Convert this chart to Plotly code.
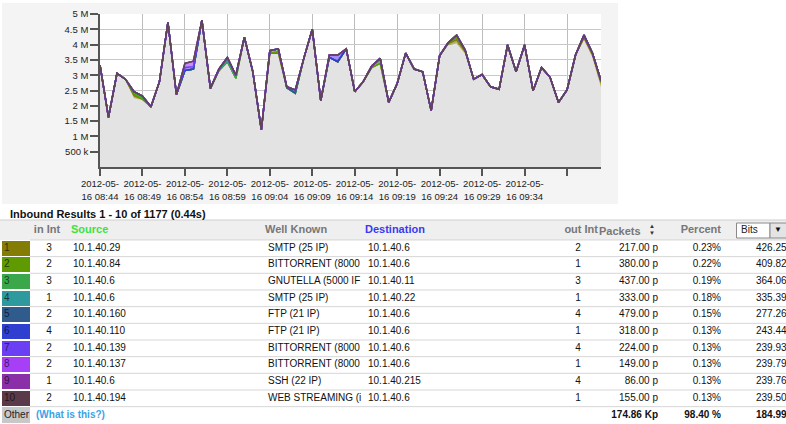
import pandas as pd
import plotly.graph_objects as go

FONT = "Liberation Sans, Arial, sans-serif"
W, H = 786, 424

# ---------------- chart data (Mbps per minute) ----------------
times = pd.date_range("2012-05-16 08:44", periods=60, freq="min")

other = [3.33, 1.62, 3.06, 2.87, 2.25, 2.19, 1.97, 2.79, 4.73, 2.37,
         3.15, 3.20, 4.80, 2.57, 3.15, 3.44, 2.90, 4.24, 3.11, 1.21,
         3.72, 3.72, 2.59, 2.41, 3.55, 4.50, 2.17, 3.58, 3.44, 3.86,
         2.46, 2.79, 3.25, 3.39, 2.11, 2.73, 3.72, 3.20, 3.11, 1.84,
         3.64, 3.98, 4.04, 3.69, 2.87, 3.02, 2.62, 2.54, 3.99, 3.11,
         3.99, 2.49, 3.25, 2.93, 2.11, 2.52, 3.66, 4.15, 3.57, 2.60]

s1 = [0, 0, 0, 0, .08, .03, 0, 0, 0, 0,
      0, 0, 0, 0, 0, 0, 0, 0, 0, 0,
      0, 0, 0, 0, 0, 0, 0, 0, 0, 0,
      0, 0, 0, 0, 0, 0, 0, 0, 0, 0,
      0, .05, .12, .08, 0, 0, 0, 0, 0, 0,
      0, 0, 0, 0, 0, 0, 0, .08, .10, .15]
s2 = [0, 0, 0, 0, .05, 0, 0, 0, 0, 0,
      0, 0, 0, 0, 0, 0, 0, 0, 0, 0,
      0, .05, 0, 0, 0, 0, 0, 0, 0, 0,
      0, 0, 0, 0, 0, 0, 0, 0, 0, 0,
      0, .03, .06, .05, 0, 0, 0, 0, 0, 0,
      0, 0, 0, 0, 0, 0, 0, .08, .05, .07]
s3 = [0, 0, 0, 0, .04, .05, 0, 0, 0, 0,
      0, 0, 0, 0, 0, 0, 0, 0, 0, 0,
      .08, .09, 0, 0, 0, 0, 0, 0, 0, 0,
      0, 0, .05, .10, 0, 0, 0, 0, 0, 0,
      0, 0, .09, 0, 0, 0, 0, 0, 0, 0,
      0, 0, 0, 0, 0, 0, 0, 0, 0, 0]
s4 = [0, 0, 0, 0, .04, .05, 0, 0, 0, 0,
      0, 0, 0, 0, 0, .07, .10, 0, 0, 0,
      0, 0, 0, 0, 0, 0, 0, 0, 0, 0,
      0, 0, 0, .06, 0, 0, 0, 0, 0, 0,
      0, 0, 0, 0, 0, 0, 0, 0, 0, 0,
      0, 0, 0, 0, 0, 0, 0, 0, 0, 0]
s5 = [0, 0, 0, 0, 0, 0, 0, 0, 0, 0,
      0, 0, 0, 0, .05, .07, 0, 0, 0, 0,
      0, 0, 0, 0, 0, 0, 0, 0, 0, 0,
      0, 0, 0, 0, 0, 0, 0, 0, 0, 0,
      0, 0, 0, 0, 0, 0, 0, 0, 0, 0,
      0, 0, 0, 0, 0, 0, 0, 0, 0, 0]
s6 = [0, 0, 0, 0, 0, 0, 0, 0, 0, 0,
      0, 0, 0, 0, 0, 0, 0, 0, 0, 0,
      0, 0, .03, .11, 0, 0, 0, 0, 0, 0,
      0, 0, 0, 0, 0, 0, 0, 0, 0, 0,
      0, 0, 0, 0, 0, 0, 0, 0, 0, 0,
      0, 0, 0, 0, 0, 0, 0, 0, 0, 0]
s7 = [0, 0, 0, 0, 0, 0, 0, 0, 0, 0,
      .10, .08, 0, 0, 0, 0, 0, 0, 0, 0,
      0, 0, 0, 0, 0, 0, 0, .08, .22, 0,
      0, 0, 0, 0, 0, 0, 0, 0, 0, 0,
      0, 0, 0, 0, 0, 0, 0, 0, 0, 0,
      0, 0, 0, 0, 0, 0, 0, 0, 0, 0]
s8 = [0, 0, 0, 0, 0, 0, 0, 0, 0, 0,
      .14, .18, 0, 0, 0, 0, 0, 0, 0, 0,
      0, 0, 0, 0, 0, 0, 0, 0, 0, 0,
      0, 0, 0, 0, 0, 0, 0, 0, 0, 0,
      0, 0, 0, 0, 0, 0, 0, 0, 0, 0,
      0, 0, 0, 0, 0, 0, 0, 0, 0, 0]
s9 = [0] * 60
s10 = [0] * 60
top_series = [s1, s2, s3, s4, s5, s6, s7, s8, s9, s10]

series_colors = ["#837c05", "#5f9a00", "#3aa84a", "#2f9a9e", "#2f5c8c",
                 "#2f3fd0", "#6b40f5", "#a63ff5", "#8a2fa8", "#5a3a48"]
line_colors = ["#837c05", "#5f9a00", "#3aa84a", "#2f9a9e", "#2f5c8c",
               "#2f3fd0", "#6b40f5", "#a63ff5", "#8a2fa8", "#5d4753"]
fill_rgba = ["rgba(131,124,5,0.6)", "rgba(95,154,0,0.6)", "rgba(58,168,74,0.6)",
             "rgba(47,154,158,0.6)", "rgba(47,92,140,0.6)", "rgba(47,63,208,0.6)",
             "rgba(107,64,245,0.6)", "rgba(166,63,245,0.6)", "rgba(138,47,168,0.6)",
             "rgba(90,58,72,0.6)"]

y_tick_vals = [0.5, 1, 1.5, 2, 2.5, 3, 3.5, 4, 4.5, 5]
y_tick_text = ["500 k", "1 M", "1.5 M", "2 M", "2.5 M", "3 M", "3.5 M", "4 M", "4.5 M", "5 M"]
x_tick_vals = pd.date_range("2012-05-16 08:44", periods=12, freq="5min")
x_tick_text = ["2012-05-<br>16 " + t.strftime("%H:%M") for t in x_tick_vals[:11]] + [""]

# ---------------- table data ----------------
rows = list(range(1, 11))
in_int = [3, 2, 3, 1, 2, 4, 2, 2, 1, 2]
source = ["10.1.40.29", "10.1.40.84", "10.1.40.6", "10.1.40.6", "10.1.40.160",
          "10.1.40.110", "10.1.40.139", "10.1.40.137", "10.1.40.6", "10.1.40.194"]
well_known = ["SMTP (25 IP)", "BITTORRENT (8000", "GNUTELLA (5000 IF", "SMTP (25 IP)", "FTP (21 IP)",
              "FTP (21 IP)", "BITTORRENT (8000", "BITTORRENT (8000", "SSH (22 IP)", "WEB STREAMING (i"]
destination = ["10.1.40.6", "10.1.40.6", "10.1.40.11", "10.1.40.22", "10.1.40.6",
               "10.1.40.6", "10.1.40.6", "10.1.40.6", "10.1.40.215", "10.1.40.6"]
out_int = [2, 1, 3, 1, 4, 1, 4, 1, 4, 1]
packets = ["217.00 p", "380.00 p", "437.00 p", "333.00 p", "479.00 p",
           "318.00 p", "224.00 p", "149.00 p", "86.00 p", "155.00 p"]
percent = ["0.23%", "0.22%", "0.19%", "0.18%", "0.15%",
           "0.13%", "0.13%", "0.13%", "0.13%", "0.13%"]
bits = ["426.25", "409.82", "364.06", "335.39", "277.26",
        "243.44", "239.93", "239.79", "239.76", "239.50"]
other_totals = ["174.86 Kp", "98.40 %", "184.99"]
title_text = "Inbound Results 1 - 10 of 1177 (0.44s)"

fig = go.Figure()

# stacked area chart
fig.add_trace(go.Scatter(x=times, y=other, stackgroup="one", mode="lines",
                         line=dict(width=0, color="#e3e3e3"), fillcolor="#e3e3e3",
                         hoverinfo="skip", showlegend=False))
for vals, lc, fc in zip(top_series, line_colors, fill_rgba):
    fig.add_trace(go.Scatter(x=times, y=vals, stackgroup="one", mode="lines",
                             line=dict(width=1.5, color=lc), fillcolor=fc,
                             hoverinfo="skip", showlegend=False))

# ---------------- table (pixel-like x, row-index y) ----------------
ROW_H = 16.67
ROW1_PX = 248.3
def px_to_row(p):
    return (p - ROW1_PX) / ROW_H + 1

y2_range = [px_to_row(H), px_to_row(0)]
HDR = px_to_row(230)

# swatches
fig.add_trace(go.Bar(y=rows, x=[28] * 10, base=2, orientation="h", width=0.9,
                     marker=dict(color=series_colors, line=dict(width=0)),
                     xaxis="x2", yaxis="y2", hoverinfo="skip", showlegend=False))
fig.add_trace(go.Bar(y=[11], x=[28], base=2, orientation="h", width=1.0,
                     marker=dict(color="#c8c8c8", line=dict(width=0)),
                     xaxis="x2", yaxis="y2", hoverinfo="skip", showlegend=False))

def text_col(x, y, txt, pos, color="#111", size=10, weight="normal"):
    fig.add_trace(go.Scatter(x=[x] * len(y), y=y, text=txt, mode="text",
                             textposition=pos, cliponaxis=False,
                             textfont=dict(family=FONT, size=size, color=color, weight=weight),
                             xaxis="x2", yaxis="y2", hoverinfo="skip", showlegend=False))

text_col(4, rows, [str(r) for r in rows], "middle right", color="rgba(0,0,0,0.65)")
text_col(49, rows, [str(v) for v in in_int], "middle center")
text_col(73, rows, source, "middle right")
text_col(268, rows, well_known, "middle right")
text_col(368, rows, destination, "middle right")
text_col(578, rows, [str(v) for v in out_int], "middle center")
text_col(658, rows, packets, "middle left")
text_col(721, rows, percent, "middle left")
text_col(756, rows, bits, "middle right")

# header
text_col(10, [-1], [title_text], "middle right", color="#111", size=11, weight="bold")
text_col(47, [HDR], ["in Int"], "middle center", color="#777", size=11, weight="bold")
text_col(71, [HDR], ["Source"], "middle right", color="#3ee23e", size=11, weight="bold")
text_col(265, [HDR], ["Well Known"], "middle right", color="#777", size=11, weight="bold")
text_col(365, [HDR], ["Destination"], "middle right", color="#3a3af0", size=11, weight="bold")
text_col(598, [HDR], ["out Int"], "middle left", color="#777", size=11, weight="bold")
text_col(599, [HDR + 0.12], ["Packets"], "middle right", color="#777", size=11, weight="bold")
text_col(652, [HDR], ["▲<br>▼"], "middle center", color="#333", size=6)
text_col(721, [HDR], ["Percent"], "middle left", color="#777", size=11, weight="bold")
text_col(741, [HDR], ["Bits"], "middle right", color="#222", size=10)
text_col(778, [HDR], ["▼"], "middle center", color="#111", size=8)

# other row
text_col(4, [11], ["Other"], "middle right", color="#222", size=10)
text_col(36, [11], ["(What is this?)"], "middle right", color="#3ba3e6", size=10, weight="bold")
text_col(658, [11], [other_totals[0]], "middle left", weight="bold")
text_col(721, [11], [other_totals[1]], "middle left", weight="bold")
text_col(756, [11], [other_totals[2]], "middle right", weight="bold")

shapes = []
# grey chart panel
shapes.append(dict(type="rect", xref="paper", yref="paper", x0=2 / W, x1=618 / W,
                   y0=1 - 204 / H, y1=1 - 3 / H, fillcolor="#f4f4f4",
                   line=dict(width=0), layer="below"))
# white plot area
shapes.append(dict(type="rect", xref="x domain", yref="y domain", x0=0, x1=1, y0=0, y1=1,
                   fillcolor="white", line=dict(width=0), layer="below"))
# header band
shapes.append(dict(type="rect", xref="x2", yref="y2", x0=0, x1=W,
                   y0=px_to_row(220), y1=px_to_row(240), fillcolor="#efefef",
                   line=dict(width=0), layer="below"))
shapes.append(dict(type="line", xref="x2", yref="y2", x0=0, x1=W,
                   y0=px_to_row(220), y1=px_to_row(220), line=dict(color="#cfcfcf", width=1),
                   layer="below"))
for r in range(0, 11):
    shapes.append(dict(type="line", xref="x2", yref="y2", x0=30, x1=W,
                       y0=r + 0.5, y1=r + 0.5, line=dict(color="#d6d6d6", width=1),
                       layer="below"))
# dropdown
shapes.append(dict(type="rect", xref="x2", yref="y2", x0=736.5, x1=770,
                   y0=px_to_row(223), y1=px_to_row(238), fillcolor="white",
                   line=dict(color="#8a8a8a", width=1), layer="below"))
shapes.append(dict(type="rect", xref="x2", yref="y2", x0=770, x1=790,
                   y0=px_to_row(223), y1=px_to_row(238), fillcolor="#e4e4e4",
                   line=dict(color="#8a8a8a", width=1), layer="below"))

fig.update_layout(
    width=W, height=H, autosize=False,
    margin=dict(l=0, r=0, t=0, b=0, pad=0, autoexpand=False),
    paper_bgcolor="white", plot_bgcolor="rgba(0,0,0,0)",
    font=dict(family=FONT, color="#222"),
    showlegend=False,
    shapes=shapes,
    xaxis=dict(domain=[100 / W, 601 / W], type="date",
               range=[times[0], times[-1]],
               tickvals=list(x_tick_vals), ticktext=x_tick_text,
               tickfont=dict(family=FONT, size=9.5, color="#222"),
               showgrid=True, gridcolor="#bdbdbd", gridwidth=1,
               showline=True, linecolor="#555", linewidth=1.5,
               ticks="outside", ticklen=7, tickcolor="#555", tickwidth=1.5,
               zeroline=False, fixedrange=True, anchor="y", automargin=False),
    yaxis=dict(domain=[1 - 167 / H, 1 - 14 / H], range=[0, 5],
               tickvals=y_tick_vals, ticktext=y_tick_text,
               tickfont=dict(family=FONT, size=9.5, color="#222"),
               showgrid=True, gridcolor="#c8c8c8", gridwidth=1,
               showline=True, linecolor="#555", linewidth=1.5,
               ticks="outside", ticklen=8, tickcolor="#555", tickwidth=1.5,
               zeroline=False, fixedrange=True, anchor="x", automargin=False),
    xaxis2=dict(domain=[0, 1], range=[0, W], visible=False, fixedrange=True,
                anchor="y2", automargin=False),
    yaxis2=dict(domain=[0, 1], range=y2_range, visible=False, fixedrange=True,
                anchor="x2", automargin=False),
    bargap=0,
)

fig.write_html("out.html", config={"displayModeBar": False},
               post_script="document.body.style.margin='0';document.body.style.overflow='hidden';")
